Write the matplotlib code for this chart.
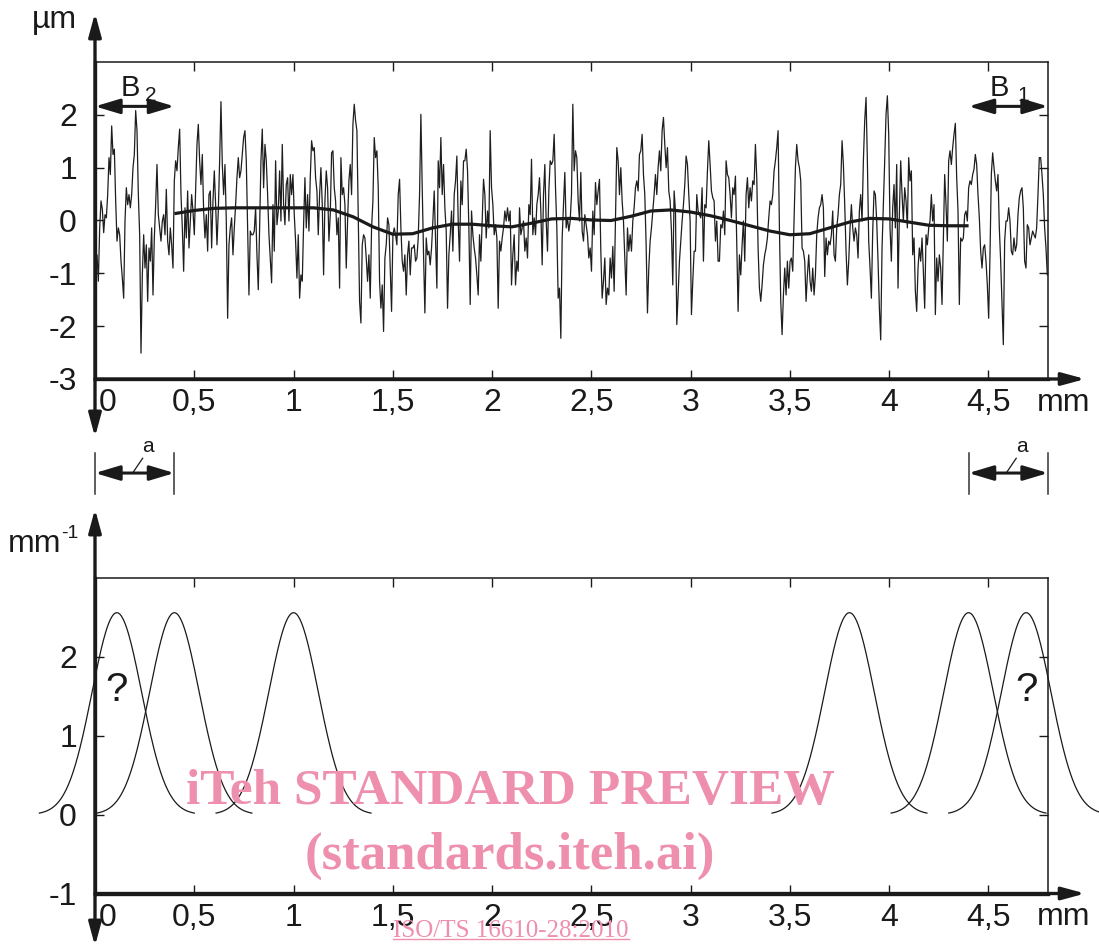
import numpy as np
import matplotlib
matplotlib.use("Agg")
import matplotlib.pyplot as plt
from matplotlib.transforms import ScaledTranslation
from matplotlib.lines import Line2D

plt.rcParams['font.family'] = ['Liberation Sans', 'DejaVu Sans']

# ---------------- data ----------------
# roughness profile (µm), sampled on a regular grid starting at PROFILE_X0 (mm)
PROFILE_X0 = -0.01
PROFILE_DX = 0.006713
profile_seg1 = [-1.53, -1.53, -1.03, -0.65, -1.15, -0.14, 0.37, 0.21, -0.23, 0.11,
                0.05, 0.49, 1.19, 0.87, 1.79, 1.25, 1.35, 0.37, -0.39, -0.14,
                -0.27, -0.77, -1.09, -1.47, -0.01, 0.62, 0.30, 0.49, 0.24, 0.49,
                1.00, 1.25, 2.08, 1.70, 0.49, -0.27, -2.51, -1.03, -0.27, -0.90,
                -0.46, -1.53, -0.52, -0.77, -0.14, -1.41, -0.33, 0.30, 1.06, 0.11,
                -0.14, -0.39, -0.01, 0.11, -0.27, 0.59, -0.39, -0.65, -0.14, -0.46,
                -0.90, 0.75, 1.13, 0.94, 1.38, 1.73, 0.49, -0.14, -0.96, 0.24,
                -0.33, 0.56, -0.52, -0.01, 0.49, 0.18, -0.27, 0.62, 1.44, 1.82,
                1.13, 0.68, 1.25, 0.18, -0.33, 0.11, -0.58, 0.49, 0.56, -0.52,
                0.37, 0.94, 0.30, -0.46, 0.18, 1.13, 2.25, 1.06, 0.49, 1.06,
                -0.01, -1.85, -0.46, -0.14, 0.05, -0.65, -0.14, 0.30, 0.81, 1.19,
                0.81, 0.94, 1.25, 1.57, 1.70, 1.13, -0.14, -1.41, -0.20, -0.27]
profile_seg2 = [-0.27, -0.20, 0.24, -0.65, -1.31, -0.14, 1.13, 1.73, 0.62, 1.44,
                1.13, 0.49, -0.27, -0.71, -1.18, 0.30, -0.58, 1.13, -0.08, 0.18,
                0.94, -0.01, 1.44, 0.30, -0.08, 0.68, 0.81, -0.01, 0.87, 0.49,
                0.87, 0.11, -0.39, -1.09, -0.27, -1.47, -1.03, -1.15, -0.08, 0.81,
                -0.14, 0.49, -0.20, 0.81, 1.51, 1.32, 1.38, 0.81, 0.56, -0.27,
                0.49, 1.00, 0.30, -1.03, 0.37, 0.94, 0.62, -0.39, 0.11, 1.28,
                1.32, 0.62, 0.37, -0.27, 0.05, -1.28, 1.19, 0.49, 0.62, 0.30,
                -0.90, -0.01, 0.75, 1.06, 0.49, 1.82, 2.20, 1.89, 1.70, 0.11,
                -1.53, -1.94, -0.46, -0.27, -0.33, -0.71, -1.15, -0.65, -1.47, -0.14,
                0.37, 1.57, 1.19, 1.32, 0.62, -1.15, -1.66, -1.22, -2.10, -0.71,
                -0.46, 0.05, -0.08, -0.90, -1.72, -0.27, -0.14, -0.27, -0.46, 0.49,
                0.78, -0.14, -0.77, -0.96, -0.65, -1.41, -0.65, -0.39, -1.03, -0.52]
profile_seg3 = [-0.52, -0.46, -0.77, -0.71, -0.33, 0.49, 2.01, 0.62, -0.65, -1.75,
                -0.33, -0.65, -0.58, -0.84, -0.52, -0.01, 0.56, -0.33, -1.28, 1.13,
                0.62, 1.57, 0.49, 1.06, 0.24, -0.20, -1.66, -0.65, -0.27, 0.18,
                -0.58, 0.49, 0.75, 1.22, -0.01, -0.77, 0.75, 0.30, 1.13, 1.13,
                1.35, 0.94, -0.14, -1.59, 0.18, -0.27, -0.52, -0.71, -1.03, -1.41,
                -0.27, -0.77, -0.01, 0.78, 0.49, -0.33, 0.18, -0.14, 1.70, 0.62,
                0.30, -0.27, -0.08, -0.33, -1.66, -0.39, -0.58, -0.33, -0.14, 0.18,
                -0.01, 0.24, -0.01, 0.18, -1.22, -0.65, -0.27, -1.22, -0.77, -0.96,
                0.24, -0.27, -0.14, -0.01, -0.58, -0.33, -0.71, 0.30, 0.11, 1.16,
                -0.27, 0.05, -0.27, 0.30, 0.49, 0.81, 0.18, -0.84, 0.49, 1.06,
                -0.01, -0.58, 0.56, 1.13, 1.06, 1.13, 1.63, 0.62, -0.14, -1.47,
                -1.28, -2.23, -0.33, 0.30, 0.91, -0.14, 0.05, -0.20, -0.01, 0.49]
profile_seg4 = [2.20, 0.94, 1.32, 1.19, 0.37, -0.01, 0.91, -0.20, -0.39, 0.11,
                -0.08, -0.27, -0.71, -0.52, -0.96, 0.18, -0.27, 0.72, 0.30, 0.56,
                0.78, -0.58, -1.47, -1.15, -0.71, -1.59, -1.28, -1.41, -0.71, -1.09,
                -0.49, -1.34, 0.05, 1.38, 1.13, 0.49, 1.00, 0.37, -0.01, -0.71,
                -1.41, -0.14, -0.58, -0.27, -0.58, -0.01, 0.24, 0.62, 0.75, 0.56,
                1.25, 1.32, 1.63, 0.87, 0.49, -0.46, -1.75, -0.90, -0.39, -0.14,
                0.18, 0.49, 0.87, 0.49, 1.00, 1.32, 0.94, 1.70, 1.95, 1.44,
                1.00, 1.38, 0.56, 0.37, -0.20, -1.22, 0.56, 0.18, -1.97, -1.41,
                -0.77, -0.39, -0.01, 0.30, 0.68, 1.22, 1.06, 0.49, -0.01, -1.78,
                -1.15, -0.58, -0.58, 0.49, 0.18, 0.11, 0.05, 0.62, -0.77, 0.30,
                0.24, 0.94, 1.51, 1.06, 0.56, 0.43, 0.37, -0.39, -0.01, -0.77,
                -0.77, -0.08, -0.14, 0.18, -0.27, 1.13, 0.87, 0.81, 0.49, 0.05]
profile_seg5 = [0.62, 0.49, 0.84, -0.39, -1.72, -0.65, -1.03, -0.46, -0.01, -0.77,
                0.49, 0.81, 0.24, 0.62, 0.37, 0.75, 0.68, 1.44, 0.81, -0.52,
                -1.28, -1.53, -1.22, -0.84, -0.65, -0.52, -0.33, 0.05, 0.37, 0.30,
                0.49, 0.94, 1.13, 1.38, 1.70, -0.14, -1.53, -2.16, -1.41, -0.90,
                -1.41, -0.77, -1.28, -0.77, -0.71, -0.96, 0.05, 1.00, 1.44, 1.13,
                1.00, 0.75, -0.52, -0.58, -0.77, -1.53, -1.03, -0.65, -1.15, -1.34,
                -0.90, -1.41, -1.03, -0.27, 0.05, 0.24, 0.30, 0.49, 0.24, -1.06,
                -0.33, -0.65, -0.39, -0.46, -0.27, 0.18, -0.65, -0.77, -0.14, 0.11,
                0.49, 0.68, 1.51, 1.06, 0.30, -0.58, -1.22, -0.77, -0.14, 0.30,
                -0.14, -0.39, -0.14, -0.27, -0.71, 0.18, 0.49, -0.01, 1.13, 1.89,
                2.33, 1.13, -0.39, -0.90, -1.47, -0.20, 0.56, 0.49, -0.01, -0.77,
                -1.66, -2.26, -0.52, 0.30, 1.13, 2.01, 2.36, 1.63, -0.14, -0.77]
profile_seg6 = [0.24, 0.68, -0.14, 1.06, -1.28, 0.11, 1.13, 0.49, -0.01, 0.62,
                0.37, -0.14, 1.19, 0.75, 0.94, -0.65, -0.33, -1.34, -1.72, -0.90,
                -0.52, -0.77, -0.33, -0.96, -1.66, -0.27, -0.46, -0.14, -0.01, 0.49,
                -0.01, 0.30, -1.78, -0.71, -1.15, -0.65, -0.90, -1.59, -0.39, 0.87,
                0.30, -0.39, 1.13, 1.32, 1.06, 1.38, 1.63, 1.84, 0.81, 0.18,
                -1.59, -0.33, -0.39, -0.33, 0.11, 0.18, -0.01, 0.62, 0.75, 0.68,
                0.87, 0.97, 1.25, 1.06, 0.49, 0.05, -0.58, -0.90, -0.52, -0.46,
                -0.77, -1.22, -1.85, -0.65, 0.87, 1.28, 1.00, 0.75, 0.56, 0.87,
                -0.14, -0.77, -1.53, -2.35, -0.39, -0.01, -0.01, 0.24, -0.01, -0.58,
                -0.65, -0.33, -0.58, -0.46, 0.11, 0.43, 0.56, 0.62, 0.24, -0.77,
                -0.90, -0.08, -0.14, -0.46, -0.33, -0.20, -0.27, -0.33, -0.14, 0.49,
                1.19, 1.19, 0.87, 0.49, -0.14, -0.52, -1.03]

# mean line (Gaussian filter output), µm, at 0.1 mm steps from 0.4 mm to 4.4 mm
mean_x_start = 0.4
mean_x_step = 0.1
mean_um = [0.13, 0.19, 0.23, 0.24, 0.24, 0.24, 0.24, 0.24, 0.20, 0.07,
           -0.12, -0.26, -0.25, -0.14, -0.07, -0.07, -0.10, -0.12, -0.05, 0.03,
           0.04, 0.01, 0.00, 0.08, 0.18, 0.20, 0.16, 0.09, 0.00, -0.10,
           -0.20, -0.27, -0.25, -0.14, -0.03, 0.04, 0.03, -0.03, -0.09, -0.10,
           -0.10]

# weighting functions (bottom panel)
filter_centers = [0.11, 0.40, 1.00, 3.80, 4.40, 4.69]
filter_peak = 2.56        # mm^-1
filter_width = 0.313      # mm
filter_halfspan = 0.39    # mm
question_centers = [0.11, 4.69]

x_ticks = [0, 0.5, 1, 1.5, 2, 2.5, 3, 3.5, 4, 4.5]
x_tick_labels = ['0', '0,5', '1', '1,5', '2', '2,5', '3', '3,5', '4', '4,5']
top_y_ticks = [-3, -2, -1, 0, 1, 2]
top_y_labels = ['-3', '-2', '-1', '0', '1', '2']
bot_y_ticks = [-1, 0, 1, 2]
bot_y_labels = ['-1', '0', '1', '2']
edge_band = 0.4           # width a = B1 = B2 (mm)
x_max = 4.8

# ---------------- figure ----------------
W, H = 1099, 947
fig = plt.figure(figsize=(W / 100, H / 100), dpi=100)
ax1 = fig.add_axes([95 / W, 1 - 379 / H, 953 / W, 317 / H])
ax2 = fig.add_axes([95 / W, 1 - 893.5 / H, 953 / W, 315.5 / H])

INK = '#1a1a1a'
FS = 23


def style_axes(ax, ylim, yt, yl):
    ax.set_xlim(0, x_max)
    ax.set_ylim(*ylim)
    ax.patch.set_visible(False)
    for s in ('top', 'right'):
        ax.spines[s].set_linewidth(1.1)
        ax.spines[s].set_color(INK)
    for s in ('left', 'bottom'):
        ax.spines[s].set_linewidth(2.4)
        ax.spines[s].set_color(INK)
    ax.set_xticks(x_ticks)
    ax.set_xticklabels(x_tick_labels)
    ax.set_yticks(yt)
    ax.set_yticklabels(yl)
    ax.tick_params(axis='x', direction='in', top=True, bottom=True, length=6.5,
                   width=1.0, labelsize=FS, pad=6.5, color=INK, labelcolor=INK)
    ax.tick_params(axis='y', direction='in', left=True, right=True, length=6.5,
                   width=1.0, labelsize=FS, pad=13, color=INK, labelcolor=INK)
    # shift the "0" label away from the vertical axis line
    lab0 = ax.get_xticklabels()[0]
    lab0.set_transform(lab0.get_transform() + ScaledTranslation(0.13, 0, fig.dpi_scale_trans))
    # axis arrows
    arrow_kw = dict(arrowstyle='-|>,head_length=1.4,head_width=0.38', lw=2.4,
                    color=INK, shrinkA=0, shrinkB=0, mutation_scale=10)
    ax.annotate('', xy=(1.039, 0), xytext=(0, 0), xycoords='axes fraction',
                arrowprops=arrow_kw, annotation_clip=False)


style_axes(ax1, (-3, 3), top_y_ticks, top_y_labels)
style_axes(ax2, (-1, 3), bot_y_ticks, bot_y_labels)

arrow_kw = dict(arrowstyle='<|-|>,head_length=1.4,head_width=0.38', lw=2.4,
                color=INK, shrinkA=0, shrinkB=0, mutation_scale=10)
# vertical axis lines with arrows at both ends
ax1.annotate('', xy=(0, (379 - 13) / 317), xytext=(0, (379 - 437) / 317),
             xycoords='axes fraction', arrowprops=arrow_kw, annotation_clip=False)
ax2.annotate('', xy=(0, (893.5 - 509) / 315.5), xytext=(0, (893.5 - 946) / 315.5),
             xycoords='axes fraction', arrowprops=arrow_kw, annotation_clip=False)

# ---- top panel: profile ----
profile = np.concatenate([profile_seg1, profile_seg2, profile_seg3,
                          profile_seg4, profile_seg5, profile_seg6])
px = PROFILE_X0 + np.arange(len(profile)) * PROFILE_DX
ax1.plot(px, profile, color='#1e1e1e', lw=0.9, zorder=3)
mx = mean_x_start + np.arange(len(mean_um)) * mean_x_step
ax1.plot(mx, mean_um, color='#1a1a1a', lw=2.3, zorder=4, solid_capstyle='butt')

# B2 / B1 arrows
band_kw = dict(arrowstyle='<|-|>,head_length=1.5,head_width=0.45', lw=2.2,
               color=INK, shrinkA=0, shrinkB=0, mutation_scale=10)
ax1.annotate('', xy=(edge_band, 2.16), xytext=(0, 2.16), arrowprops=band_kw,
             annotation_clip=False)
ax1.annotate('', xy=(x_max, 2.16), xytext=(x_max - edge_band, 2.16), arrowprops=band_kw,
             annotation_clip=False)
ax1.text(0.131, 2.35, 'B', fontsize=21, ha='left', va='baseline', color=INK)
ax1.text(0.250, 2.26, '2', fontsize=15, ha='left', va='baseline', color=INK)
ax1.text(4.507, 2.35, 'B', fontsize=21, ha='left', va='baseline', color=INK)
ax1.text(4.646, 2.26, '1', fontsize=15, ha='left', va='baseline', color=INK)

# units
fig.text(54 / W, 1 - 28 / H, 'µm', fontsize=FS, ha='center', va='baseline', color=INK)
fig.text(1064 / W, 1 - 411 / H, 'mm', fontsize=FS, ha='center', va='baseline', color=INK)
fig.text(1064 / W, 1 - 925 / H, 'mm', fontsize=FS, ha='center', va='baseline', color=INK)
fig.text(35 / W, 1 - 552 / H, 'mm', fontsize=FS, ha='center', va='baseline', color=INK)
fig.text(70 / W, 1 - 538 / H, '-1', fontsize=14, ha='center', va='baseline', color=INK)

# ---- "a" dimension markers between panels ----
for x0 in (0.0, x_max - edge_band):
    for xv in (x0, x0 + edge_band):
        ax1.plot([xv, xv], [-4.40, -5.18], color='#333333', lw=1.1, clip_on=False)
    ax1.annotate('', xy=(x0 + edge_band, -4.78), xytext=(x0, -4.78), arrowprops=band_kw,
                 annotation_clip=False)
    ax1.plot([x0 + 0.193, x0 + 0.240], [-4.76, -4.50], color=INK, lw=0.9, clip_on=False)
    ax1.text(x0 + 0.267, -4.27, 'a', fontsize=15, ha='center', va='center', color=INK)

# ---- bottom panel: weighting functions ----
for c in filter_centers:
    gx = np.linspace(c - filter_halfspan, c + filter_halfspan, 200)
    gy = filter_peak * np.exp(-np.pi * ((gx - c) / filter_width) ** 2)
    ax2.plot(gx, gy, color=INK, lw=0.9, clip_on=False, zorder=3)
for c in question_centers:
    ax2.text(c, 1.58, '?', fontsize=29, ha='center', va='center', color=INK)

# ---- watermark ----
PINK = '#EE8FAD'
fig.text(510 / W, 1 - 792 / H, 'iTeh STANDARD PREVIEW', fontsize=37, fontweight='bold',
         family='Liberation Serif', color=PINK, ha='center', va='center', zorder=10)
fig.text(510 / W, 1 - 856 / H, '(standards.iteh.ai)', fontsize=38, fontweight='bold',
         family='Liberation Serif', color=PINK, ha='center', va='center', zorder=10)
iso = fig.text(511 / W, 1 - 931 / H, 'ISO/TS 16610-28:2010', fontsize=18,
               family='Liberation Serif', color=PINK, ha='center', va='center', zorder=10)

fig.canvas.draw()
bb = iso.get_window_extent().transformed(fig.transFigure.inverted())
fig.add_artist(Line2D([bb.x0, bb.x1], [bb.y0 + 0.0035, bb.y0 + 0.0035],
                      transform=fig.transFigure, color=PINK, lw=1.0))

fig.savefig('out.png', dpi=100)
